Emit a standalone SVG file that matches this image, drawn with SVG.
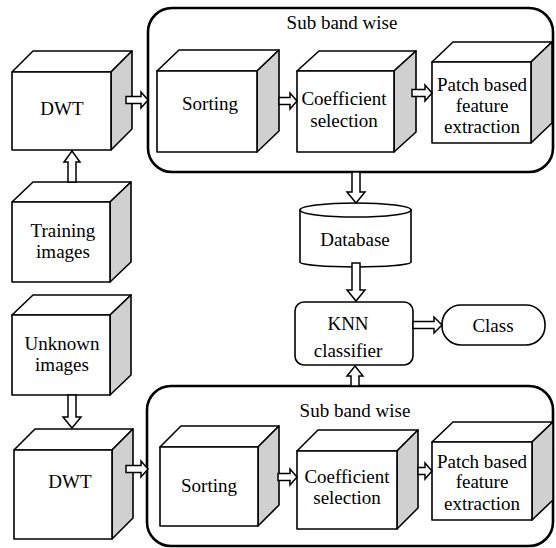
<svg xmlns="http://www.w3.org/2000/svg" width="556" height="548" viewBox="0 0 556 548" font-family="Liberation Serif, Times New Roman, serif">
<style>
.t{font-size:19px;fill:#000;text-anchor:middle}
.fr{fill:#fff;stroke:#000;stroke-width:1.6;stroke-linejoin:round}
.sd{fill:#d0d0d0;stroke:#000;stroke-width:1.6;stroke-linejoin:round}
.ct{fill:none;stroke:#000;stroke-width:2.6}
.ar{fill:#fff;stroke:#000;stroke-width:1.5;stroke-linejoin:miter}
</style>
<rect width="556" height="548" fill="#fff"/>
<g id="container-top"><rect class="ct" x="148" y="8" width="405" height="164" rx="24"/><text class="t" x="342" y="29">Sub band wise</text></g>
<g id="container-bottom"><rect class="ct" x="147" y="386" width="406" height="160" rx="24"/><text class="t" x="355" y="417">Sub band wise</text></g>

<g id="dwt1">
<polygon class="fr" points="12,72 33,51 132,51 111,72"/>
<polygon class="sd" points="111,72 132,51 132,129 111,150"/>
<rect class="fr" x="12" y="72" width="99" height="78"/>
<text class="t" x="62" y="115">DWT</text></g>

<g id="sorting1">
<polygon class="fr" points="157,71 179,50 279,50 257,71"/>
<polygon class="sd" points="257,71 279,50 279,131 257,152"/>
<rect class="fr" x="157" y="71" width="100" height="81"/>
<text class="t" x="210" y="110">Sorting</text></g>

<g id="coef1">
<polygon class="fr" points="297,71 319,51 416,51 394,71"/>
<polygon class="sd" points="394,71 416,51 416,132 394,152"/>
<rect class="fr" x="297" y="71" width="97" height="81"/>
<text class="t" x="344" y="105">Coefficient</text><text class="t" x="344" y="127">selection</text></g>

<g id="patch1">
<polygon class="fr" points="432,62 453,42 552,42 531,62"/>
<polygon class="sd" points="531,62 552,42 552,123 531,143"/>
<rect class="fr" x="432" y="62" width="99" height="81"/>
<text class="t" x="482" y="91">Patch based</text><text class="t" x="482" y="112">feature</text><text class="t" x="482" y="133">extraction</text></g>

<g id="training">
<polygon class="fr" points="12,202 33,182 131,182 110,202"/>
<polygon class="sd" points="110,202 131,182 131,262 110,282"/>
<rect class="fr" x="12" y="202" width="98" height="80"/>
<text class="t" x="63" y="237">Training</text><text class="t" x="63" y="258">images</text></g>

<g id="unknown">
<polygon class="fr" points="12,315 33,295 131,295 110,315"/>
<polygon class="sd" points="110,315 131,295 131,375 110,395"/>
<rect class="fr" x="12" y="315" width="98" height="80"/>
<text class="t" x="62" y="350">Unknown</text><text class="t" x="62" y="371">images</text></g>

<g id="dwt2">
<polygon class="fr" points="14,450 35,429 133,429 112,450"/>
<polygon class="sd" points="112,450 133,429 133,518 112,539"/>
<rect class="fr" x="14" y="450" width="98" height="89"/>
<text class="t" x="70" y="488">DWT</text></g>

<g id="sorting2">
<polygon class="fr" points="160,447 181,426 279,426 258,447"/>
<polygon class="sd" points="258,447 279,426 279,505 258,526"/>
<rect class="fr" x="160" y="447" width="98" height="79"/>
<text class="t" x="209" y="492">Sorting</text></g>

<g id="coef2">
<polygon class="fr" points="297,451 318,430 418,430 397,451"/>
<polygon class="sd" points="397,451 418,430 418,508 397,529"/>
<rect class="fr" x="297" y="451" width="100" height="78"/>
<text class="t" x="347" y="483">Coefficient</text><text class="t" x="347" y="504">selection</text></g>

<g id="patch2">
<polygon class="fr" points="432,442 453,422 553,422 532,442"/>
<polygon class="sd" points="532,442 553,422 553,500 532,520"/>
<rect class="fr" x="432" y="442" width="100" height="78"/>
<text class="t" x="482" y="468">Patch based</text><text class="t" x="482" y="488">feature</text><text class="t" x="482" y="510">extraction</text></g>

<g id="database">
<path class="fr" d="M300,210 V262 A55.5,5 0 0 0 411,262 V210 Z"/>
<ellipse class="fr" cx="355.5" cy="210" rx="55.5" ry="7"/>
<text class="t" x="355" y="246">Database</text></g>

<g id="knn">
<rect class="fr" x="295" y="302" width="118" height="63" rx="9"/>
<text class="t" x="348" y="330">KNN</text><text class="t" x="348" y="357">classifier</text></g>

<g id="class">
<rect class="fr" x="442" y="305" width="103" height="40" rx="19"/>
<text class="t" x="493" y="332">Class</text></g>

<g id="connectors">
<polygon class="ar" points="126,96.5 141,96.5 141,92 148,100 141,108 141,103.5 126,103.5"/>
<polygon class="ar" points="279,97.5 290,97.5 290,93 297,101 290,109 290,104.5 279,104.5"/>
<polygon class="ar" points="412,89.5 425,89.5 425,85 432,93 425,101 425,96.5 412,96.5"/>
<polygon class="ar" points="68,182 68,162 64,162 72,151 80,162 76,162 76,182"/>
<polygon class="ar" points="352,172 352,192 347,192 356,203 365,192 360,192 360,172"/>
<polygon class="ar" points="352,263 352,290 347,290 356,301 365,290 360,290 360,263"/>
<polygon class="ar" points="413,321.5 434,321.5 434,317 442,325 434,333 434,328.5 413,328.5"/>
<polygon class="ar" points="351,386 351,376 347,376 355,366 363,376 359,376 359,386"/>
<polygon class="ar" points="68,395 68,417 63,417 72,428 81,417 76,417 76,395"/>
<polygon class="ar" points="126,465.5 141,465.5 141,461 148,469 141,477 141,472.5 126,472.5"/>
<polygon class="ar" points="278,473.5 290,473.5 290,469 297,477 290,485 290,480.5 278,480.5"/>
<polygon class="ar" points="418,467.5 425,467.5 425,463 432,471 425,479 425,474.5 418,474.5"/>
</g>
</svg>
